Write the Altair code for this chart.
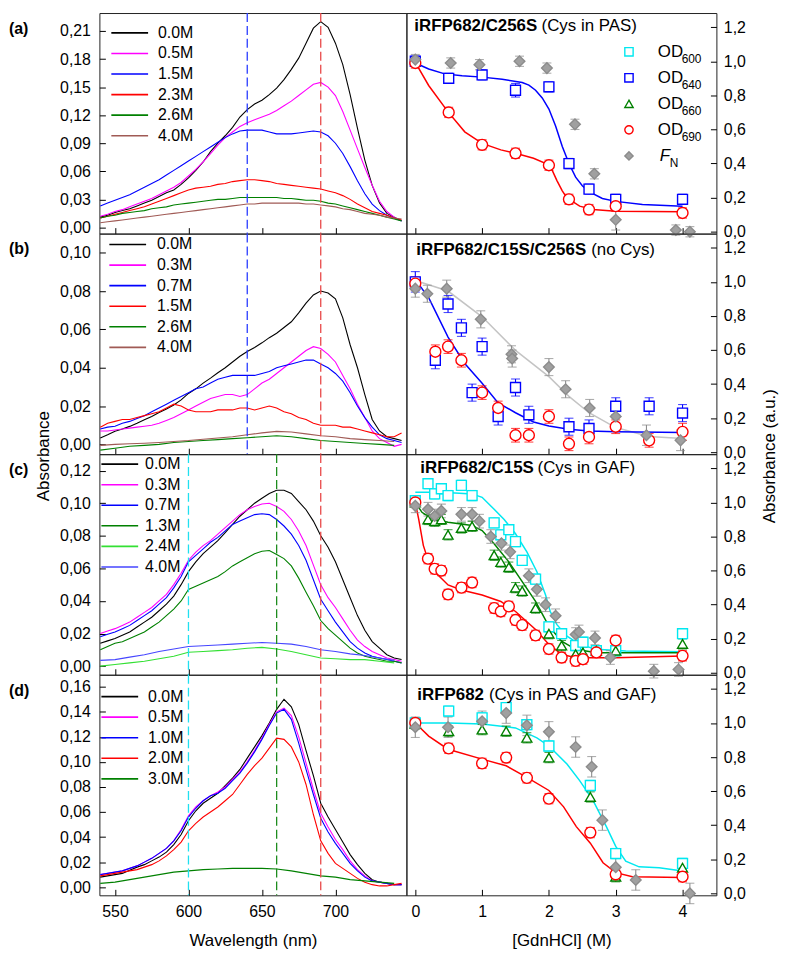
import altair as alt
import pandas as pd

FONT = "Liberation Sans"

# ---------------- wavelength grids (nm) ----------------
WL5 = list(range(540, 750, 5))
WL10 = list(range(540, 750, 10))

# ---------------- (a) iRFP682/C256S spectra ----------------
A_00 = [0.011, 0.013, 0.016, 0.018, 0.020, 0.023, 0.026, 0.029, 0.033, 0.037,
        0.040, 0.046, 0.053, 0.061, 0.070, 0.081, 0.090, 0.098, 0.107, 0.118,
        0.126, 0.132, 0.136, 0.142, 0.149, 0.158, 0.169, 0.181, 0.197, 0.213,
        0.220, 0.214, 0.197, 0.174, 0.142, 0.106, 0.072, 0.045, 0.026, 0.015,
        0.011, 0.007]
A_05 = [0.012, 0.014, 0.017, 0.019, 0.022, 0.025, 0.028, 0.031, 0.035, 0.039,
        0.043, 0.048, 0.055, 0.062, 0.070, 0.079, 0.088, 0.096, 0.102, 0.108,
        0.112, 0.115, 0.118, 0.121, 0.125, 0.130, 0.135, 0.141, 0.147, 0.153,
        0.155, 0.150, 0.141, 0.124, 0.104, 0.084, 0.064, 0.045, 0.028, 0.017,
        0.011, 0.007]
A_15 = [0.023, 0.026, 0.029, 0.032, 0.035, 0.039, 0.043, 0.047, 0.051, 0.056,
        0.061, 0.066, 0.071, 0.076, 0.081, 0.086, 0.091, 0.096, 0.100, 0.103,
        0.104, 0.104, 0.104, 0.102, 0.100, 0.100, 0.100, 0.101, 0.102, 0.103,
        0.102, 0.098, 0.090, 0.079, 0.065, 0.050, 0.036, 0.025, 0.018, 0.013,
        0.010, 0.007]
A_23 = [0.010, 0.012, 0.014, 0.016, 0.018, 0.020, 0.022, 0.025, 0.028, 0.031,
        0.034, 0.037, 0.040, 0.042, 0.043, 0.044, 0.046, 0.047, 0.049, 0.050,
        0.051, 0.051, 0.050, 0.049, 0.047, 0.046, 0.045, 0.044, 0.043, 0.042,
        0.041, 0.039, 0.037, 0.034, 0.030, 0.025, 0.021, 0.017, 0.015, 0.013,
        0.010, 0.008]
A_26 = [0.010, 0.012, 0.013, 0.015, 0.016, 0.017, 0.018, 0.020, 0.021, 0.022,
        0.024, 0.025, 0.026, 0.027, 0.028, 0.029, 0.030, 0.030, 0.031, 0.032,
        0.032, 0.032, 0.032, 0.032, 0.032, 0.031, 0.031, 0.030, 0.029, 0.029,
        0.028, 0.026, 0.025, 0.023, 0.021, 0.019, 0.017, 0.015, 0.013, 0.011,
        0.009, 0.007]
A_40 = [0.005, 0.006, 0.007, 0.008, 0.009, 0.010, 0.011, 0.012, 0.013, 0.014,
        0.015, 0.016, 0.017, 0.018, 0.019, 0.020, 0.021, 0.022, 0.023, 0.024,
        0.025, 0.025, 0.026, 0.026, 0.026, 0.026, 0.026, 0.026, 0.025, 0.025,
        0.024, 0.023, 0.022, 0.020, 0.019, 0.017, 0.015, 0.014, 0.013, 0.011,
        0.010, 0.009]
A_LABELS = ["0.0M", "0.5M", "1.5M", "2.3M", "2.6M", "4.0M"]

# ---------------- (b) iRFP682/C15S/C256S spectra ----------------
B_00 = [0.0034, 0.005, 0.0069, 0.008, 0.0094, 0.011, 0.0129, 0.0146, 0.0166, 0.0185,
        0.0206, 0.0232, 0.0266, 0.029, 0.032, 0.0346, 0.0374, 0.040, 0.043, 0.046,
        0.0485, 0.0506, 0.053, 0.0557, 0.058, 0.061, 0.064, 0.0686, 0.0737, 0.078,
        0.080, 0.079, 0.076, 0.066, 0.052, 0.040, 0.026, 0.013, 0.007, 0.004,
        0.003, 0.002]
B_03 = [0.007, 0.007, 0.0075, 0.008, 0.0085, 0.009, 0.0095, 0.010, 0.011, 0.0125,
        0.014, 0.016, 0.018, 0.020, 0.022, 0.024, 0.025, 0.026, 0.026, 0.025,
        0.026, 0.029, 0.032, 0.034, 0.037, 0.040, 0.043, 0.046, 0.049, 0.051,
        0.050, 0.047, 0.043, 0.036, 0.029, 0.021, 0.014, 0.007, 0.003, 0.001,
        -0.001, 0.000]
B_07 = [0.008, 0.009, 0.0095, 0.011, 0.012, 0.0135, 0.015, 0.017, 0.019, 0.021,
        0.023, 0.025, 0.027, 0.029, 0.030, 0.032, 0.034, 0.035, 0.036, 0.036,
        0.036, 0.036, 0.037, 0.038, 0.040, 0.041, 0.042, 0.043, 0.044, 0.044,
        0.042, 0.040, 0.037, 0.033, 0.027, 0.020, 0.014, 0.009, 0.005, 0.003,
        0.002, 0.001]
B_15 = [0.009, 0.011, 0.012, 0.013, 0.013, 0.014, 0.015, 0.016, 0.017, 0.019,
        0.021, 0.020, 0.018, 0.017, 0.017, 0.017, 0.018, 0.018, 0.018, 0.019,
        0.019, 0.018, 0.019, 0.020, 0.019, 0.017, 0.016, 0.014, 0.013, 0.011,
        0.010, 0.010, 0.010, 0.009, 0.009, 0.008, 0.007, 0.006, 0.005, 0.004,
        0.004, 0.006]
B_26 = [-0.003, -0.002, -0.001, -0.0005, 0.000, 0.001, 0.0015, 0.002, 0.0025, 0.003,
        0.0035, 0.004, 0.0045, 0.004, 0.003, 0.002, 0.0015, 0.001, 0.0005, 0.000,
        -0.0005]
B_40 = [-0.0005, 0.000, 0.0003, 0.0006, 0.001, 0.0015, 0.002, 0.0027, 0.0033, 0.004,
        0.005, 0.006, 0.0068, 0.0065, 0.0055, 0.0045, 0.004, 0.003, 0.0025, 0.002,
        0.0015]
B_LABELS = ["0.0M", "0.3M", "0.7M", "1.5M", "2.6M", "4.0M"]

# ---------------- (c) iRFP682/C15S spectra ----------------
C_00 = [0.014, 0.0155, 0.017, 0.019, 0.021, 0.024, 0.027, 0.030, 0.034, 0.038,
        0.043, 0.050, 0.058, 0.064, 0.069, 0.073, 0.077, 0.082, 0.087, 0.092,
        0.096, 0.100, 0.103, 0.106, 0.108, 0.108, 0.106, 0.101, 0.096, 0.089,
        0.080, 0.073, 0.064, 0.053, 0.042, 0.031, 0.022, 0.015, 0.011, 0.007,
        0.005, 0.004]
C_03 = [0.020, 0.0215, 0.023, 0.025, 0.027, 0.030, 0.033, 0.036, 0.040, 0.044,
        0.050, 0.057, 0.065, 0.070, 0.074, 0.077, 0.081, 0.085, 0.089, 0.093,
        0.096, 0.098, 0.0995, 0.100, 0.098, 0.095, 0.090, 0.083, 0.074, 0.062,
        0.050, 0.042, 0.036, 0.029, 0.022, 0.016, 0.012, 0.009, 0.007, 0.005,
        0.004, 0.003]
C_07 = [0.018, 0.0195, 0.021, 0.023, 0.025, 0.028, 0.031, 0.034, 0.038, 0.042,
        0.048, 0.055, 0.064, 0.068, 0.072, 0.076, 0.079, 0.083, 0.087, 0.089,
        0.091, 0.093, 0.0935, 0.093, 0.090, 0.086, 0.081, 0.074, 0.065, 0.053,
        0.041, 0.034, 0.027, 0.021, 0.015, 0.011, 0.008, 0.006, 0.005, 0.004,
        0.003, 0.002]
C_13 = [0.010, 0.012, 0.014, 0.015, 0.017, 0.019, 0.021, 0.024, 0.027, 0.031,
        0.035, 0.040, 0.047, 0.049, 0.051, 0.053, 0.055, 0.058, 0.0615, 0.064,
        0.0665, 0.069, 0.0705, 0.071, 0.0685, 0.066, 0.0615, 0.054, 0.0454, 0.037,
        0.028, 0.023, 0.019, 0.015, 0.011, 0.008, 0.006, 0.005, 0.004, 0.003,
        0.003, 0.002]
C_24 = [0.000, 0.001, 0.002, 0.003, 0.0045, 0.006, 0.0085, 0.009, 0.0095, 0.010,
        0.011, 0.0115, 0.0105, 0.009, 0.007, 0.005, 0.0045, 0.004, 0.004, 0.003,
        0.002]
C_40 = [0.0035, 0.004, 0.0055, 0.007, 0.009, 0.0105, 0.012, 0.0125, 0.013, 0.0135,
        0.014, 0.0145, 0.014, 0.0135, 0.012, 0.010, 0.009, 0.0075, 0.0065, 0.005,
        0.0035]
C_LABELS = ["0.0M", "0.3M", "0.7M", "1.3M", "2.4M", "4.0M"]

# ---------------- (d) iRFP682 spectra ----------------
D_00 = [0.008, 0.009, 0.010, 0.011, 0.0135, 0.016, 0.018, 0.021, 0.024, 0.028,
        0.034, 0.042, 0.053, 0.061, 0.067, 0.071, 0.075, 0.081, 0.087, 0.094,
        0.103, 0.112, 0.121, 0.131, 0.142, 0.150, 0.144, 0.130, 0.109, 0.089,
        0.067, 0.056, 0.046, 0.036, 0.026, 0.018, 0.011, 0.006, 0.004, 0.003,
        0.002, 0.002]
D_05 = [0.010, 0.011, 0.012, 0.013, 0.015, 0.017, 0.020, 0.023, 0.027, 0.031,
        0.037, 0.046, 0.057, 0.064, 0.069, 0.073, 0.076, 0.080, 0.086, 0.092,
        0.100, 0.109, 0.119, 0.130, 0.140, 0.143, 0.137, 0.120, 0.099, 0.078,
        0.059, 0.048, 0.038, 0.030, 0.021, 0.014, 0.009, 0.005, 0.004, 0.003,
        0.002, 0.002]
D_10 = [0.010, 0.011, 0.012, 0.013, 0.015, 0.017, 0.020, 0.023, 0.027, 0.031,
        0.037, 0.045, 0.056, 0.063, 0.069, 0.073, 0.075, 0.079, 0.085, 0.091,
        0.099, 0.108, 0.118, 0.129, 0.139, 0.142, 0.134, 0.115, 0.094, 0.074,
        0.055, 0.044, 0.035, 0.027, 0.019, 0.013, 0.008, 0.005, 0.004, 0.003,
        0.002, 0.002]
D_20 = [0.009, 0.010, 0.011, 0.012, 0.013, 0.014, 0.016, 0.018, 0.021, 0.025,
        0.030, 0.036, 0.045, 0.051, 0.056, 0.060, 0.064, 0.069, 0.074, 0.082,
        0.090, 0.097, 0.103, 0.111, 0.119, 0.118, 0.112, 0.100, 0.082, 0.058,
        0.037, 0.027, 0.019, 0.015, 0.011, 0.007, 0.004, 0.002, 0.001, 0.001,
        0.002, 0.003]
D_30 = [0.003, 0.004, 0.006, 0.008, 0.010, 0.012, 0.013, 0.014, 0.0145, 0.015,
        0.015, 0.015, 0.0145, 0.013, 0.011, 0.009, 0.008, 0.006, 0.005, 0.004,
        0.003]
D_LABELS = ["0.0M", "0.5M", "1.0M", "2.0M", "3.0M"]

# ---------------- (a) denaturation data ----------------
A_X = [0, 0.5, 1.0, 1.5, 2.0, 2.3, 2.6, 3.0, 4.0]
A_OD640 = [1.00, 0.90, 0.92, 0.83, 0.85, 0.40, 0.25, 0.19, 0.19]
A_OD640_ERR = [0.03, 0.03, 0.03, 0.04, 0.03, 0.03, 0.03, 0.03, 0.03]
A_OD690 = [0.99, 0.70, 0.51, 0.46, 0.39, 0.19, 0.13, 0.15, 0.11]
A_OD690_ERR = [0.03, 0.03, 0.03, 0.03, 0.03, 0.03, 0.03, 0.03, 0.03]
A_FN_X = [0, 0.53, 0.96, 1.56, 1.97, 2.39, 2.68, 3.0, 3.9, 4.11]
A_FN = [1.01, 0.99, 0.98, 1.00, 0.96, 0.63, 0.34, 0.07, 0.01, 0.00]
A_FN_ERR = [0.03, 0.03, 0.03, 0.03, 0.03, 0.03, 0.03, 0.06, 0.03, 0.03]
A_FIT640_X = [0, 0.2, 0.44, 0.7, 1.0, 1.3, 1.6, 1.7, 1.8, 1.9, 2.0, 2.1, 2.2, 2.3,
              2.4, 2.5, 2.6, 2.8, 3.0, 3.4, 4.0]
A_FIT640 = [0.99, 0.955, 0.926, 0.915, 0.907, 0.895, 0.875, 0.86, 0.83, 0.785, 0.72,
            0.62, 0.50, 0.40, 0.32, 0.27, 0.235, 0.195, 0.178, 0.16, 0.15]
A_FIT690_X = [0, 0.2, 0.49, 0.74, 1.0, 1.28, 1.5, 1.77, 2.0, 2.05, 2.12, 2.2, 2.27,
              2.46, 2.66, 3.0, 4.0]
A_FIT690 = [0.994, 0.858, 0.703, 0.586, 0.518, 0.48, 0.46, 0.431, 0.392, 0.36, 0.30,
            0.24, 0.198, 0.15, 0.13, 0.12, 0.117]

# ---------------- (b) denaturation data ----------------
B_X640 = [0, 0.3, 0.49, 0.69, 0.85, 1.0, 1.24, 1.5, 1.7, 2.3, 2.6, 3.0, 3.5, 4.0]
B_OD640 = [1.00, 0.54, 0.87, 0.73, 0.35, 0.62, 0.21, 0.38, 0.22, 0.15, 0.14, 0.27, 0.27, 0.23]
B_OD640_ERR = [0.06, 0.05, 0.05, 0.05, 0.05, 0.05, 0.05, 0.05, 0.05, 0.05, 0.05, 0.05, 0.05, 0.05]
B_X690 = [0, 0.3, 0.49, 0.69, 1.0, 1.24, 1.5, 1.7, 2.0, 2.3, 2.6, 3.0, 3.5, 4.0]
B_OD690 = [0.99, 0.59, 0.62, 0.54, 0.35, 0.26, 0.10, 0.10, 0.21, 0.05, 0.09, 0.15, 0.07, 0.12]
B_OD690_ERR = [0.04, 0.04, 0.04, 0.04, 0.04, 0.04, 0.04, 0.04, 0.04, 0.04, 0.04, 0.04, 0.04, 0.05]
B_FN_X = [0, 0.18, 0.47, 0.98, 1.44, 1.45, 2.0, 2.25, 2.61, 3.0, 3.46, 3.97]
B_FN = [0.96, 0.93, 0.96, 0.78, 0.575, 0.55, 0.50, 0.37, 0.26, 0.21, 0.10, 0.07]
B_FN_ERR = [0.05, 0.05, 0.05, 0.05, 0.05, 0.05, 0.05, 0.05, 0.05, 0.05, 0.06, 0.06]
B_FITFN_X = [0, 0.49, 1.0, 1.5, 2.0, 2.3, 2.6, 3.0, 3.5, 4.0]
B_FITFN = [1.008, 0.946, 0.795, 0.598, 0.444, 0.328, 0.232, 0.145, 0.093, 0.081]
B_FIT640_X = [0, 0.2, 0.49, 0.74, 1.0, 1.24, 1.5, 1.77, 2.0, 2.3, 2.6, 3.0, 4.0]
B_FIT640 = [1.013, 0.907, 0.676, 0.521, 0.405, 0.29, 0.232, 0.178, 0.154, 0.135, 0.125, 0.12, 0.116]

# ---------------- (c) denaturation data ----------------
C_X = [0, 0.19, 0.29, 0.39, 0.49, 0.69, 0.85, 1.18, 1.28, 1.4, 1.5, 1.6, 1.8, 2.0,
       2.19, 2.4, 2.51, 2.71, 3.0, 4.0]
C_OD600 = [1.01, 1.11, 1.05, 1.08, 1.04, 1.10, 1.04, 0.88, 0.81, 0.84, 0.77, 0.66, 0.55,
           0.27, 0.23, 0.16, 0.18, 0.13, 0.13, 0.23]
C_OD660 = [1.00, 0.90, 0.89, 0.90, 0.81, 0.85, 0.86, 0.69, 0.65, 0.62, 0.50, 0.48, 0.38,
           0.23, 0.16, 0.11, 0.12, 0.13, 0.13, 0.17]
C_OD690 = [1.00, 0.67, 0.61, 0.60, 0.46, 0.50, 0.53, 0.38, 0.36, 0.39, 0.31, 0.28, 0.22,
           0.14, 0.09, 0.07, 0.08, 0.12, 0.19, 0.10]
C_OD_ERR = [0.03, 0.03, 0.03, 0.03, 0.03, 0.03, 0.03, 0.03, 0.03, 0.03, 0.03, 0.03, 0.03,
            0.03, 0.03, 0.03, 0.03, 0.03, 0.03, 0.03]
C_FN_X = [0, 0.19, 0.29, 0.39, 0.69, 0.85, 0.96, 1.13, 1.29, 1.42, 1.7, 1.82, 1.95, 2.1,
          2.4, 2.45, 2.69, 2.92, 3.57, 3.94]
C_FN = [0.98, 0.96, 0.92, 0.95, 0.93, 0.93, 0.89, 0.80, 0.76, 0.71, 0.57, 0.49, 0.40,
        0.335, 0.225, 0.24, 0.205, 0.09, 0.01, 0.02]
C_FN_ERR = [0.04, 0.04, 0.04, 0.04, 0.04, 0.04, 0.04, 0.04, 0.04, 0.04, 0.04, 0.04, 0.04,
            0.04, 0.04, 0.04, 0.04, 0.04, 0.04, 0.04]
C_FIT600_X = [0, 0.4, 0.85, 1.0, 1.18, 1.33, 1.5, 1.67, 1.82, 1.95, 2.02, 2.12, 2.27,
              2.46, 2.71, 3.15, 4.0]
C_FIT600 = [1.06, 1.06, 1.05, 1.03, 0.96, 0.90, 0.816, 0.71, 0.593, 0.457, 0.36, 0.283,
            0.215, 0.167, 0.138, 0.128, 0.124]
C_FIT660_X = [0, 0.1, 0.25, 0.49, 0.85, 1.0, 1.18, 1.4, 1.6, 1.8, 2.0, 2.19, 2.4, 2.71, 4.0]
C_FIT660 = [1.0, 0.942, 0.903, 0.884, 0.864, 0.835, 0.758, 0.651, 0.535, 0.419, 0.273,
            0.186, 0.138, 0.118, 0.118]
C_FIT690_X = [0, 0.05, 0.12, 0.2, 0.34, 0.49, 0.69, 1.0, 1.28, 1.5, 1.8, 2.0, 2.19,
              2.4, 3.0, 4.0]
C_FIT690 = [1.0, 0.903, 0.748, 0.651, 0.574, 0.516, 0.486, 0.457, 0.419, 0.36, 0.254,
            0.167, 0.109, 0.089, 0.089, 0.099]

# ---------------- (d) denaturation data ----------------
D_X = [0, 0.5, 1.0, 1.36, 1.67, 2.0, 2.62, 3.0, 4.0]
D_OD600 = [1.00, 1.07, 1.03, 1.09, 0.99, 0.865, 0.633, 0.234, 0.176]
D_OD660 = [0.994, 0.952, 0.961, 0.952, 0.913, 0.797, 0.566, 0.098, 0.151]
D_OD690 = [1.00, 0.851, 0.763, 0.797, 0.678, 0.556, 0.357, 0.112, 0.098]
D_OD_ERR = [0.03, 0.03, 0.03, 0.03, 0.03, 0.03, 0.03, 0.03, 0.03]
D_FN_X = [0, 0.49, 1.0, 1.36, 1.67, 2.0, 2.4, 2.64, 2.8, 3.0, 3.3, 4.11]
D_FN = [0.975, 0.975, 1.01, 1.058, 0.986, 0.948, 0.859, 0.743, 0.43, 0.154, 0.079, 0.0]
D_FN_ERR = [0.06, 0.06, 0.06, 0.06, 0.06, 0.06, 0.06, 0.06, 0.06, 0.06, 0.06, 0.06]
D_FIT600_X = [0, 0.5, 1.0, 1.5, 1.82, 2.0, 2.27, 2.46, 2.66, 2.86, 3.0, 3.15, 3.35, 3.65, 4.0]
D_FIT600 = [1.0, 1.0, 0.994, 0.971, 0.913, 0.865, 0.759, 0.662, 0.546, 0.392, 0.276,
            0.189, 0.156, 0.151, 0.131]
D_FIT690_X = [0, 0.2, 0.49, 1.0, 1.36, 1.67, 2.0, 2.22, 2.41, 2.62, 2.81, 3.0, 3.25, 4.0]
D_FIT690 = [1.0, 0.923, 0.846, 0.788, 0.749, 0.681, 0.604, 0.508, 0.392, 0.295, 0.18,
            0.122, 0.098, 0.093]

# ---------------- styles ----------------
BLACK, MAGENTA, BLUE, RED, GREEN = "#000000", "#ff00ff", "#0000ff", "#ff0000", "#008000"
BROWN, LGREEN, LBLUE, CYAN, GRAY = "#a05a55", "#33e033", "#4646ff", "#00e8f0", "#a0a0a0"

W_L, W_R, H = 309, 312, 222
XL_DOM = [539.4, 748.3]
XR_DOM = [-0.133, 4.507]
YR_DOM = [-0.011, 1.283]
DUMMY = pd.DataFrame({"d": [0]})


def comma_expr(fmt):
    return f"replace(format(datum.value, '{fmt}'), '.', ',')"


def txt(x, y, s, size=16, weight="normal", style="normal", align="left", angle=0,
        color="#000"):
    return alt.Chart(DUMMY).mark_text(
        text=s, font=FONT, fontSize=size, fontWeight=weight, fontStyle=style,
        align=align, baseline="middle", angle=angle, color=color
    ).encode(x=alt.value(x), y=alt.value(y))


def x_axis(values, fmt, bottom, title):
    return alt.Axis(values=values, labelExpr=comma_expr(fmt), labels=bottom,
                    offset=-6, tickSize=6, tickColor="#000", domain=False, grid=False,
                    labelPadding=8, labelFontSize=16, labelColor="#000", labelFlush=False,
                    title=title if bottom else None, titleFontSize=17,
                    titleFontWeight="normal", titlePadding=14, titleColor="#000")


def y_axis(values, fmt, orient, pad):
    return alt.Axis(values=values, labelExpr=comma_expr(fmt), orient=orient,
                    offset=-6, tickSize=6, tickColor="#000", domain=False, grid=False,
                    labelPadding=pad, labelFontSize=16, labelColor="#000",
                    labelFlush=False, title=None)


def left_panel(letter, curves, ydom, yticks, dashed, leg, bottom, ytitle=False):
    rows = []
    for lab, wl, vals, col in curves:
        for w, v in zip(wl, vals):
            rows.append({"wl": w, "A": v, "s": lab, "c": col})
    df = pd.DataFrame(rows)
    xs = alt.Scale(domain=XL_DOM, nice=False, zero=False)
    ys = alt.Scale(domain=ydom, nice=False, zero=False)
    xax = x_axis([550, 600, 650, 700], ".0f", bottom, "Wavelength (nm)")
    yax = y_axis(yticks, ".2f", "left", 9)
    lines = alt.Chart(df).mark_line(strokeWidth=1.1, clip=True).encode(
        x=alt.X("wl:Q", scale=xs, axis=xax),
        y=alt.Y("A:Q", scale=ys, axis=yax),
        color=alt.Color("c:N", scale=None),
        detail="s:N",
    )
    dd = pd.DataFrame({"wl": [d[0] for d in dashed], "c": [d[1] for d in dashed]})
    rules = alt.Chart(dd).mark_rule(strokeDash=[9, 4], strokeWidth=1.3).encode(
        x=alt.X("wl:Q", scale=xs, axis=xax),
        color=alt.Color("c:N", scale=None),
    )
    layers = [lines, rules]
    lx1, lx2, tx, y0, dy = leg
    for i, (lab, wl, vals, col) in enumerate(curves):
        y = y0 + i * dy
        layers.append(alt.Chart(DUMMY).mark_rule(color=col, strokeWidth=1.6).encode(
            x=alt.value(lx1), x2=alt.value(lx2), y=alt.value(y)))
        layers.append(txt(tx, y, lab, size=16))
    layers.append(txt(-91, 16, letter, size=16, weight="bold"))
    if ytitle:
        layers.append(txt(-56, H + 2, "Absorbance", size=17, align="center", angle=270))
    return alt.layer(*layers).properties(width=W_L, height=H)


def marker_df(xs, ys, errs, color, shape, fill, ecolor, size):
    return pd.DataFrame({
        "x": xs, "y": ys,
        "lo": [y - e for y, e in zip(ys, errs)],
        "hi": [y + e for y, e in zip(ys, errs)],
        "c": color, "shape": shape, "f": fill, "ec": ecolor, "sz": size,
    })


def right_panel(series, fits, tbold, tnorm, tpos, bottom, legend=False, ytitle=False):
    mk = pd.concat(series, ignore_index=True)
    frows = []
    for k, (fx, fy, col) in enumerate(fits):
        for a, b in zip(fx, fy):
            frows.append({"x": a, "y": b, "s": k, "c": col})
    fdf = pd.DataFrame(frows)
    xs = alt.Scale(domain=XR_DOM, nice=False, zero=False)
    ys = alt.Scale(domain=YR_DOM, nice=False, zero=False)
    xax = x_axis([0, 1, 2, 3, 4], ".0f", bottom, "[GdnHCl] (M)")
    yax = y_axis([0, 0.2, 0.4, 0.6, 0.8, 1.0, 1.2], ".1f", "right", 7)
    X = alt.X("x:Q", scale=xs, axis=xax)
    fit = alt.Chart(fdf).mark_line(strokeWidth=1.5).encode(
        x=X, y=alt.Y("y:Q", scale=ys, axis=yax),
        color=alt.Color("c:N", scale=None),
        detail="s:N",
    )
    err = alt.Chart(mk).mark_rule(strokeWidth=1.1).encode(
        x=X, y=alt.Y("lo:Q", scale=ys, axis=yax), y2="hi:Q",
        color=alt.Color("ec:N", scale=None),
    )
    cap_lo = alt.Chart(mk).mark_tick(orient="horizontal", size=9, thickness=1.1).encode(
        x=X, y=alt.Y("lo:Q", scale=ys, axis=yax),
        color=alt.Color("ec:N", scale=None),
    )
    cap_hi = alt.Chart(mk).mark_tick(orient="horizontal", size=9, thickness=1.1).encode(
        x=X, y=alt.Y("hi:Q", scale=ys, axis=yax),
        color=alt.Color("ec:N", scale=None),
    )
    pts = alt.Chart(mk).mark_point(filled=True, strokeWidth=1.4, opacity=1).encode(
        x=X, y=alt.Y("y:Q", scale=ys, axis=yax),
        shape=alt.Shape("shape:N", scale=None),
        fill=alt.Fill("f:N", scale=None),
        stroke=alt.Stroke("c:N", scale=None),
        size=alt.Size("sz:Q", scale=None),
    )
    bx, nx, ty = tpos
    layers = [fit, err, cap_lo, cap_hi, pts,
              txt(bx, ty, tbold, size=17, weight="bold"),
              txt(nx, ty, tnorm, size=17)]
    if legend:
        items = [("square", CYAN, "white", "600"), ("square", BLUE, "white", "640"),
                 ("triangle-up", GREEN, "white", "660"), ("circle", RED, "white", "690"),
                 ("diamond", "#8c8c8c", GRAY, None)]
        for i, (shp, col, fil, sub) in enumerate(items):
            y = 39 + i * 26.2
            layers.append(alt.Chart(DUMMY).mark_point(
                shape=shp, size=70, filled=True, fill=fil, stroke=col, strokeWidth=1.4,
                opacity=1).encode(x=alt.value(224), y=alt.value(y)))
            if sub:
                layers.append(txt(253, y, "OD", size=17))
                layers.append(txt(277, y + 7, sub, size=12))
            else:
                layers.append(txt(255, y, "F", size=17, style="italic"))
                layers.append(txt(265, y + 7, "N", size=12))
    if ytitle:
        layers.append(txt(W_R + 54, H + 2, "Absorbance (a.u.)", size=17,
                          align="center", angle=270))
    return alt.layer(*layers).properties(width=W_R, height=H)


# ---------------- build panels ----------------
RED_D = "#e84848"
pa = left_panel("(a)", [
    (A_LABELS[0], WL5, A_00, BLACK), (A_LABELS[1], WL5, A_05, MAGENTA),
    (A_LABELS[2], WL5, A_15, BLUE), (A_LABELS[3], WL5, A_23, RED),
    (A_LABELS[4], WL5, A_26, GREEN), (A_LABELS[5], WL5, A_40, BROWN)],
    [-0.0066, 0.2292], [0, 0.03, 0.06, 0.09, 0.12, 0.15, 0.18, 0.21],
    [(640, "#2a3cff"), (690, RED_D)], (12, 49, 59, 20, 20.7), False)

pb = left_panel("(b)", [
    (B_LABELS[0], WL5, B_00, BLACK), (B_LABELS[1], WL5, B_03, MAGENTA),
    (B_LABELS[2], WL5, B_07, BLUE), (B_LABELS[3], WL5, B_15, RED),
    (B_LABELS[4], WL10, B_26, GREEN), (B_LABELS[5], WL10, B_40, BROWN)],
    [-0.0051, 0.110], [0, 0.02, 0.04, 0.06, 0.08, 0.10],
    [(640, "#2a3cff"), (690, RED_D)], (10, 47, 58, 11, 20.7), False, ytitle=True)

pc = left_panel("(c)", [
    (C_LABELS[0], WL5, C_00, BLACK), (C_LABELS[1], WL5, C_03, MAGENTA),
    (C_LABELS[2], WL5, C_07, BLUE), (C_LABELS[3], WL5, C_13, GREEN),
    (C_LABELS[4], WL10, C_24, LGREEN), (C_LABELS[5], WL10, C_40, LBLUE)],
    [-0.0053, 0.1301], [0, 0.02, 0.04, 0.06, 0.08, 0.10, 0.12],
    [(600, "#20e0f0"), (660, "#1e8c1e"), (690, RED_D)], (2, 39, 46, 10, 20.7), False)

pd_ = left_panel("(d)", [
    (D_LABELS[0], WL5, D_00, BLACK), (D_LABELS[1], WL5, D_05, MAGENTA),
    (D_LABELS[2], WL5, D_10, BLUE), (D_LABELS[3], WL5, D_20, RED),
    (D_LABELS[4], WL10, D_30, GREEN)],
    [-0.0065, 0.1696], [0, 0.02, 0.04, 0.06, 0.08, 0.10, 0.12, 0.14, 0.16],
    [(600, "#20e0f0"), (660, "#1e8c1e"), (690, RED_D)], (2, 39, 49, 22, 20.7), True)

SQ, CI, TR, DI = 100, 121, 100, 115
ra = right_panel([
    marker_df(A_X, A_OD640, A_OD640_ERR, BLUE, "square", "white", BLUE, SQ),
    marker_df(A_X, A_OD690, A_OD690_ERR, RED, "circle", "white", RED, CI),
    marker_df(A_FN_X, A_FN, A_FN_ERR, "#8c8c8c", "diamond", GRAY, "#8c8c8c", DI)],
    [(A_FIT640_X, A_FIT640, BLUE), (A_FIT690_X, A_FIT690, RED)],
    "iRFP682/C256S", "(Cys in PAS)", (8, 136, 13), False, legend=True)

rb = right_panel([
    marker_df(B_X640, B_OD640, B_OD640_ERR, BLUE, "square", "white", BLUE, SQ),
    marker_df(B_X690, B_OD690, B_OD690_ERR, RED, "circle", "white", RED, CI),
    marker_df(B_FN_X, B_FN, B_FN_ERR, "#8c8c8c", "diamond", GRAY, "#8c8c8c", DI)],
    [(B_FITFN_X, B_FITFN, "#c4c4c4"), (B_FIT640_X, B_FIT640, BLUE)],
    "iRFP682/C15S/C256S", "(no Cys)", (10, 186, 17), False, ytitle=True)

rc = right_panel([
    marker_df(C_X, C_OD600, C_OD_ERR, CYAN, "square", "white", CYAN, SQ),
    marker_df(C_X, C_OD660, C_OD_ERR, GREEN, "triangle-up", "white", GREEN, TR),
    marker_df(C_X, C_OD690, C_OD_ERR, RED, "circle", "white", RED, CI),
    marker_df(C_FN_X, C_FN, C_FN_ERR, "#8c8c8c", "diamond", GRAY, "#8c8c8c", DI)],
    [(C_FIT600_X, C_FIT600, CYAN), (C_FIT660_X, C_FIT660, GREEN),
     (C_FIT690_X, C_FIT690, RED)],
    "iRFP682/C15S", "(Cys in GAF)", (14, 132, 14), False)

rd = right_panel([
    marker_df(D_X, D_OD600, D_OD_ERR, CYAN, "square", "white", CYAN, SQ),
    marker_df(D_X, D_OD660, D_OD_ERR, GREEN, "triangle-up", "white", GREEN, TR),
    marker_df(D_X, D_OD690, D_OD_ERR, RED, "circle", "white", RED, CI),
    marker_df(D_FN_X, D_FN, D_FN_ERR, "#8c8c8c", "diamond", GRAY, "#8c8c8c", DI)],
    [(D_FIT600_X, D_FIT600, CYAN), (D_FIT690_X, D_FIT690, RED)],
    "iRFP682", "(Cys in PAS and GAF)", (11, 83, 20), True)

chart = alt.concat(pa, ra, pb, rb, pc, rc, pd_, rd, columns=2, spacing=0,
                   bounds="flush", align="each").properties(
    padding={"left": 0, "top": 0, "right": 0, "bottom": 0}
).configure(font=FONT).configure_view(stroke="#222", strokeWidth=1)

chart.save("out.html", embed_options={"renderer": "svg", "actions": False})
